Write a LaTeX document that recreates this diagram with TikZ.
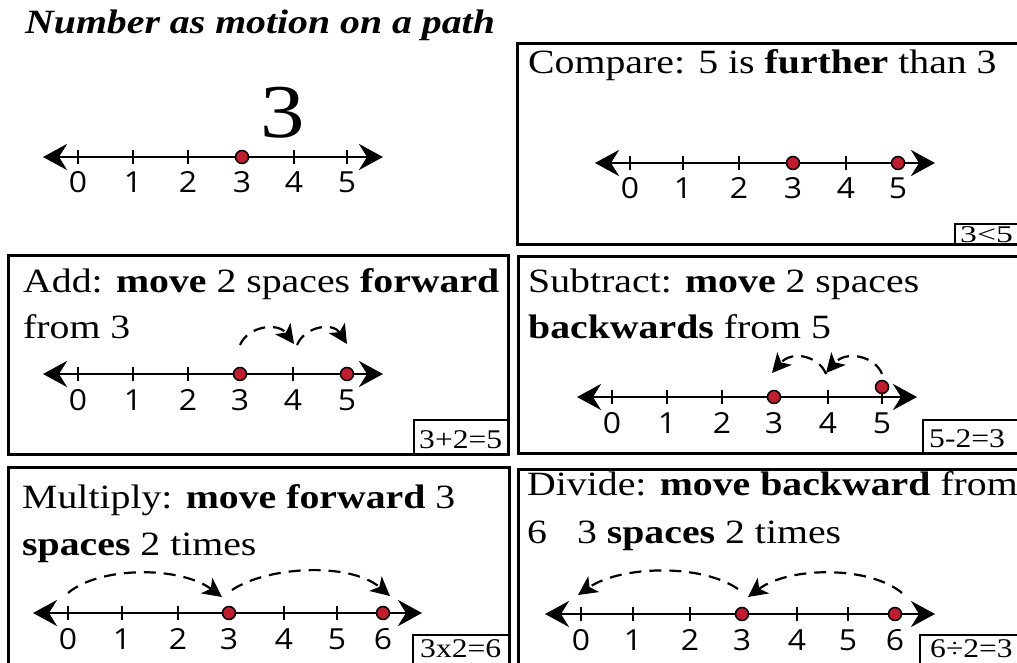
\documentclass[tikz,border=0pt]{standalone}
\usepackage{fontspec}
\setmainfont{Liberation Serif}[FakeStretch=1.17]
\newfontfamily\digitfont{Open Sans}[FakeStretch=1.1]
\usetikzlibrary{arrows.meta}
\definecolor{dotred}{RGB}{190,30,45}
\tikzset{
  panel/.style={draw=black, line width=3pt},
  eqbox/.style={draw=black, line width=2.5pt, fill=white},
  nl/.style={line width=2.6pt, {Stealth[length=24pt,width=26pt,inset=8pt]}-{Stealth[length=24pt,width=26pt,inset=8pt]}},
  tickmark/.style={line width=2pt},
  dot/.style={circle, fill=dotred, draw=black, line width=1.5pt, inner sep=0pt, minimum size=13pt},
  dasharc/.style={line width=2.2pt, dash pattern=on 12pt off 8pt, -{Stealth[length=19pt,width=19pt,inset=5pt]}},
  txt/.style={anchor=base west, inner sep=0pt, font=\fontsize{34}{40}\selectfont},
  lbl/.style={anchor=base, inner sep=0pt, font=\digitfont\fontsize{29}{32}\selectfont},
  eqtxt/.style={anchor=base west, inner sep=0pt, font=\fontsize{27}{30}\selectfont},
}
\newcommand{\numline}[5]{%
  \draw[nl] (#3,#2) -- (#4,#2);
  \foreach \xx [count=\ii from 0] in {#5} {
    \draw[tickmark] (\xx,#2-7) -- (\xx,#2+7);
    \node[lbl] (#1-\ii) at (\xx,#2+36) {\ii};
  }%
}
\begin{document}
\begin{tikzpicture}[x=1pt,y=-1pt]
\useasboundingbox (0,0) rectangle (1017,663);
\clip (0,0) rectangle (1017,663);
\fill[white] (0,0) rectangle (1017,663);

% title
\node[txt] (title) at (25,34) {\textbf{\textit{Number as motion on a path}}};

% panel 1
\node[anchor=base, inner sep=0pt, font=\fontsize{76}{80}\selectfont] (big3) at (283,138) {3};
\numline{pa}{157}{43}{383}{78,133,188,242,294,347}
\node[dot] (pad) at (242,157) {};

% compare
\draw[panel] (517,44) rectangle (1030,244);
\node[txt] (cmp) at (528,74) {Compare: 5 is \textbf{further} than 3};
\numline{pc}{163}{595}{935}{630,683,739,793,846,898}
\node[dot] (pcd3) at (793,163) {};
\node[dot] (pcd5) at (898,163) {};
\draw[eqbox] (955,224) rectangle (1030,244);
\node[eqtxt, font=\fontsize{24}{28}\selectfont] (cmpeq) at (960,242) {\scalebox{1.2}[1]{3<5}};

% add
\draw[panel] (8,255) rectangle (508,454);
\node[txt] (add1) at (23,292) {Add: \textbf{move} 2 spaces \textbf{forward}};
\node[txt] (add2) at (23,338) {from 3};
\numline{pd}{374}{43}{383}{78,133,188,240,293,347}
\node[dot] (pdd3) at (240,374) {};
\node[dot] (pdd5) at (347,374) {};
\coordinate (a1s) at (240,345); \coordinate (a1e) at (294,344);
\coordinate (a2s) at (297,345); \coordinate (a2e) at (347,344);
\draw[dasharc] (a1s) .. controls (248,326) and (278,322) .. (a1e);
\draw[dasharc] (a2s) .. controls (305,326) and (333,322) .. (a2e);
\draw[eqbox] (414,420) rectangle (508,454);
\node[eqtxt] (addeq) at (419,448) {3+2=5};

% subtract
\draw[panel] (518,256) rectangle (1030,453);
\node[txt] (sub1) at (528,292) {Subtract: \textbf{move} 2 spaces};
\node[txt] (sub2) at (528,338) {\textbf{backwards} from 5};
\numline{ps}{397}{577}{917}{612,667,722,774,828,882}
\node[dot] (psd3) at (774,397) {};
\node[dot] (psd5) at (882,387) {};
\coordinate (s1s) at (882,374); \coordinate (s1e) at (826,373);
\coordinate (s2s) at (826,374); \coordinate (s2e) at (772,373);
\draw[dasharc] (s1s) .. controls (875,356) and (846,350) .. (s1e);
\draw[dasharc] (s2s) .. controls (819,356) and (792,350) .. (s2e);
\draw[eqbox] (923,420) rectangle (1030,453);
\node[eqtxt] (subeq) at (929,447) {5-2=3};

% multiply
\draw[panel] (8,467) rectangle (509,690);
\node[txt] (mul1) at (22,508) {Multiply: \textbf{move forward} 3};
\node[txt] (mul2) at (22,555) {\textbf{spaces} 2 times};
\numline{pm}{613}{33}{422}{68,122,178,229,284,337,383}
\node[dot] (pmd3) at (229,613) {};
\node[dot] (pmd6) at (383,613) {};
\coordinate (m1s) at (68,593); \coordinate (m1e) at (222,597);
\coordinate (m2s) at (232,590); \coordinate (m2e) at (390,596);
\draw[dasharc] (m1s) .. controls (100,566) and (180,566) .. (m1e);
\draw[dasharc] (m2s) .. controls (268,566) and (350,562) .. (m2e);
\draw[eqbox] (413,635) rectangle (509,690);
\node[eqtxt] (muleq) at (420,657) {3x2=6};

% divide
\draw[panel] (518,469) rectangle (1030,690);
\node[txt] (div1) at (527,495) {Divide: \textbf{move backward} from};
\node[txt] (div2) at (527,543) {6\hspace{20pt} 3 \textbf{spaces} 2 times};
\numline{pv}{614}{545}{935}{581,633,690,742,797,848,895}
\node[dot] (pvd3) at (742,614) {};
\node[dot] (pvd6) at (895,614) {};
\coordinate (d1s) at (902,593); \coordinate (d1e) at (748,597);
\coordinate (d2s) at (738,589); \coordinate (d2e) at (578,595);
\draw[dasharc] (d1s) .. controls (870,566) and (790,566) .. (d1e);
\draw[dasharc] (d2s) .. controls (700,563) and (620,566) .. (d2e);
\draw[eqbox] (920,635) rectangle (1030,690);
\node[eqtxt] (diveq) at (930,657) {6÷2=3};
\end{tikzpicture}
\end{document}
